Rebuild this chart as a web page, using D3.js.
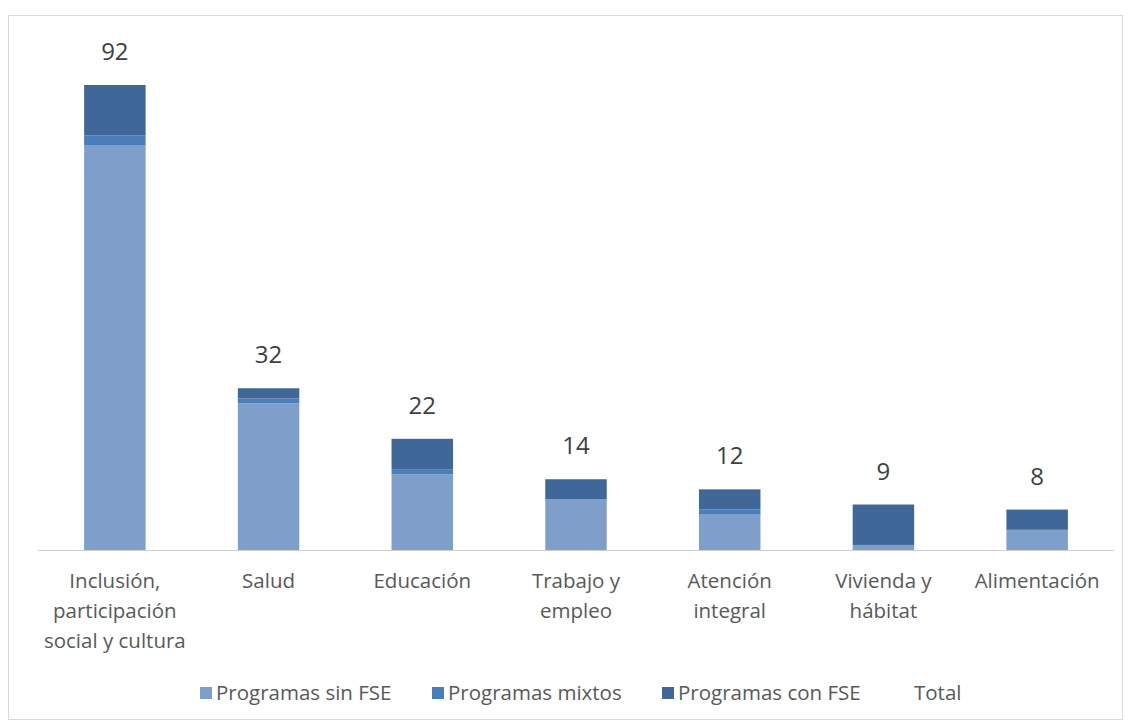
<!DOCTYPE html>
<html>
<head>
<meta charset="utf-8">
<script src="https://cdn.jsdelivr.net/npm/d3@7"></script>
<style>
  body { margin: 0; background: #fff; }
  svg { font-family: "Open Sans", "Noto Sans", sans-serif; }
</style>
</head>
<body>
<svg id="chart" width="1131" height="725"></svg>
<script>
// Data
const categories = [
  ["Inclusión,", "participación", "social y cultura"],
  ["Salud"],
  ["Educación"],
  ["Trabajo y", "empleo"],
  ["Atención", "integral"],
  ["Vivienda y", "hábitat"],
  ["Alimentación"]
];
const sinFSE = [80, 29, 15, 10, 7, 1, 4];
const mixtos = [2, 1, 1, 0, 1, 0, 0];
const conFSE = [10, 2, 6, 4, 4, 8, 4];
const totals = [92, 32, 22, 14, 12, 9, 8];

const seriesNames = ["Programas sin FSE", "Programas mixtos", "Programas con FSE"];
const colors = ["#7f9fcb", "#4a7ebb", "#3f6797"];

const svg = d3.select("#chart");

// outer frame
svg.append("rect")
  .attr("x", 8.5).attr("y", 15.5)
  .attr("width", 1114).attr("height", 704)
  .attr("fill", "none")
  .attr("stroke", "#d9d9d9");

const baseY = 550;
const ids = categories.map((d, i) => i);

const x = d3.scaleBand()
  .domain(ids)
  .range([38, 1114])
  .paddingInner(0.6)
  .paddingOuter(0.3);

const y = d3.scaleLinear()
  .domain([0, 92])
  .range([baseY, 85]);

// stack the three series
const rows = ids.map(i => ({ i: i, s0: sinFSE[i], s1: mixtos[i], s2: conFSE[i] }));
const stack = d3.stack().keys(["s0", "s1", "s2"])(rows);

svg.append("g")
  .selectAll("g")
  .data(stack)
  .join("g")
  .attr("fill", (d, k) => colors[k])
  .selectAll("rect")
  .data(d => d.filter(p => p[1] > p[0]))
  .join("rect")
  .attr("x", d => x(d.data.i))
  .attr("y", d => y(d[1]))
  .attr("width", x.bandwidth())
  .attr("height", d => y(d[0]) - y(d[1]));

// axis line
svg.append("line")
  .attr("x1", 38).attr("x2", 1114)
  .attr("y1", baseY + 0.5).attr("y2", baseY + 0.5)
  .attr("stroke", "#d0d0d0");

// total labels
svg.append("g")
  .selectAll("text")
  .data(ids)
  .join("text")
  .attr("x", i => x(i) + x.bandwidth() / 2)
  .attr("y", i => y(totals[i]) - 25)
  .attr("text-anchor", "middle")
  .attr("font-size", 24)
  .attr("fill", "#404040")
  .text(i => totals[i]);

// category labels
const cat = svg.append("g")
  .selectAll("text")
  .data(ids)
  .join("text")
  .attr("x", i => x(i) + x.bandwidth() / 2)
  .attr("y", 588)
  .attr("text-anchor", "middle")
  .attr("font-size", 20.5)
  .attr("fill", "#595959");

cat.selectAll("tspan")
  .data(i => categories[i].map(t => ({ t: t, cx: x(i) + x.bandwidth() / 2 })))
  .join("tspan")
  .attr("x", d => d.cx)
  .attr("dy", (d, k) => k === 0 ? 0 : 30)
  .text(d => d.t);

// legend
const legendItems = [
  { name: seriesNames[0], color: colors[0], x: 200 },
  { name: seriesNames[1], color: colors[1], x: 432 },
  { name: seriesNames[2], color: colors[2], x: 662 },
  { name: "Total", color: null, x: 898 }
];

const leg = svg.append("g")
  .selectAll("g")
  .data(legendItems)
  .join("g")
  .attr("transform", d => `translate(${d.x},693)`);

leg.filter(d => d.color)
  .append("rect")
  .attr("x", 0).attr("y", -6)
  .attr("width", 12).attr("height", 12)
  .attr("fill", d => d.color);

leg.append("text")
  .attr("x", 16)
  .attr("y", 7)
  .attr("font-size", 20.5)
  .attr("fill", "#595959")
  .text(d => d.name);
</script>
</body>
</html>
